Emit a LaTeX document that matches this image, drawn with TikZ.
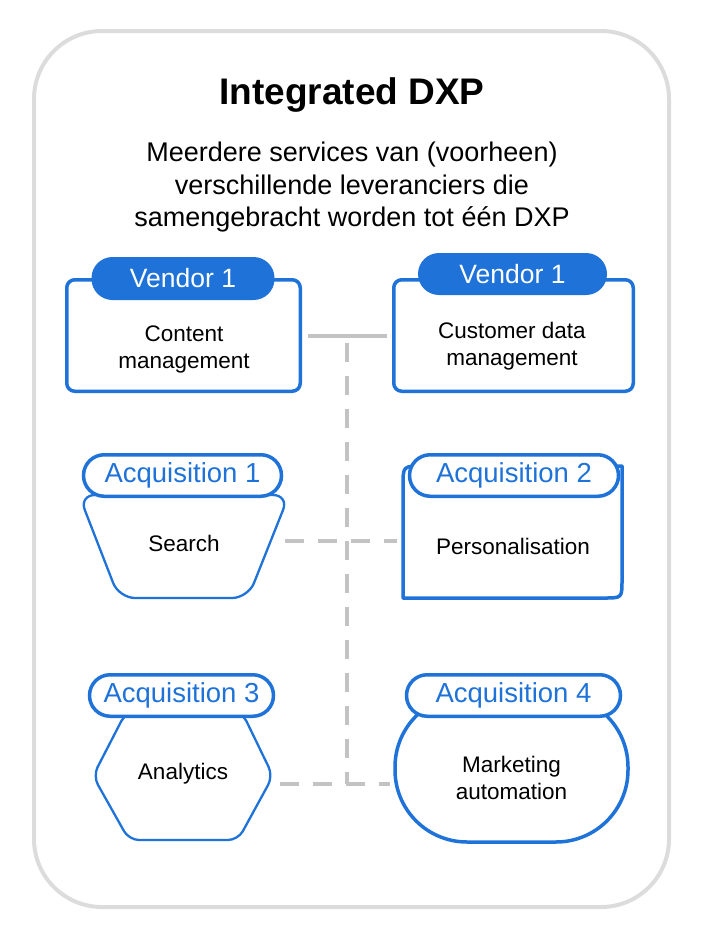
\documentclass[tikz,border=0pt]{standalone}
\usepackage{fontspec}
\setmainfont{Liberation Sans}
\usetikzlibrary{calc}
\definecolor{dxpblue}{RGB}{30,114,216}
\definecolor{linkgray}{RGB}{195,195,195}
\definecolor{framegray}{RGB}{220,220,220}
\tikzset{every picture/.style={line width=0.75pt}}

\begin{document}
\begin{tikzpicture}[x=1pt, y=-1pt, line join=round,
    vbox/.style={draw=dxpblue, line width=3.5pt, rounded corners=8pt, fill=white, minimum height=111.5pt},
    vtab/.style={fill=dxpblue, text=white, inner sep=0pt, rounded corners=21pt, font=\fontsize{26.5}{30}\selectfont},
    atab/.style={draw=dxpblue, fill=white, text=dxpblue, line width=3.5pt, inner sep=0pt, minimum height=41.5pt, rounded corners=20.7pt, font=\fontsize{27.5}{30}\selectfont},
    body/.style={inner sep=0pt, align=center, font=\fontsize{22.5}{27}\selectfont},
    blueline/.style={draw=dxpblue, fill=white, line width=#1},
    link/.style={draw=linkgray, line width=4pt, line cap=butt},
    dashlink/.style={link, dash pattern=on 19pt off 14pt}]
  \useasboundingbox (0,0) rectangle (701,937);
  \draw[framegray, line width=4pt, rounded corners=68pt] (34,31) rectangle (669,907);

  \node[font=\fontsize{37}{40}\selectfont\bfseries] (title) at (352,95) {Integrated DXP};
  \node[align=center, font=\fontsize{27}{32.5}\selectfont] (subtitle) at (352,187.5)
    {Meerdere services van (voorheen)\\verschillende leveranciers die\\samengebracht worden tot één DXP};

  % vendors
  \node[vbox, minimum width=233.5pt] (cms) at (183.5,335.5) {};
  \node[vbox, minimum width=239.5pt] (cdm) at (513.5,335.5) {};
  \node[vtab, minimum width=183pt, minimum height=43pt] (cmstab) at (183,278.5) {Vendor 1};
  \node[vtab, minimum width=189pt, minimum height=42pt] (cdmtab) at (512.5,274) {Vendor 1};
  \node[body] (cmstext) at (184,349) {Content\\management};
  \node[body] (cdmtext) at (512,346) {Customer data\\management};

  % acquisitions
  \draw[blueline=2.3pt, rounded corners=16pt] (79,495) -- (289,495) -- (248,598) -- (119,598) -- cycle;
  \draw[blueline=3.5pt] (403,598) -- (403,486) .. controls (403,466) .. (423,466) -- (622,466)
    -- (622,580) .. controls (622,598) .. (604,598) -- cycle;
  \draw[blueline=2.3pt, rounded corners=10pt] (93,776) -- (126,712) -- (242,712) -- (273,776) -- (238,840) -- (129,840) -- cycle;
  \draw[blueline=3.5pt, rounded corners=72pt] (395,695) rectangle (628,842);

  \node[body, minimum width=200pt, minimum height=100pt] (search) at (184,543.5) {Search};
  \node[body, minimum width=220pt, minimum height=100pt] (pers) at (513,546) {Personalisation};
  \node[body, minimum width=180pt, minimum height=120pt] (ana) at (183,774) {Analytics};
  \node[body, minimum width=233pt, minimum height=120pt] (mkt) at (511.5,778) {Marketing\\automation};

  \foreach \n/\x/\y/\w/\t in {acq1/182.5/475.5/198/1, acq2/514/475.5/209/2, acq3/181.5/695.5/184/3, acq4/513.5/695.5/214/4}
    \node[atab, minimum width=\w pt] (\n) at (\x,\y) {Acquisition \t};

  % connectors
  \coordinate (topjoin) at ($(cms.east)!.5!(cdm.west)$);
  \coordinate (midjoin) at (348,541);
  \coordinate (lowjoin) at (348,784);
  \draw[link, shorten <=6pt, shorten >=5pt] (cms.east) -- (cms.east -| cdm.west);
  \draw[dashlink, shorten <=7pt] (topjoin) -- (topjoin |- lowjoin);
  \draw[dashlink, shorten <=1pt, shorten >=6pt] (search.east |- midjoin) -- (pers.west |- midjoin);
  \draw[dashlink, shorten <=7pt, shorten >=5pt] (ana.east |- lowjoin) -- (mkt.west |- lowjoin);
\end{tikzpicture}
\end{document}
